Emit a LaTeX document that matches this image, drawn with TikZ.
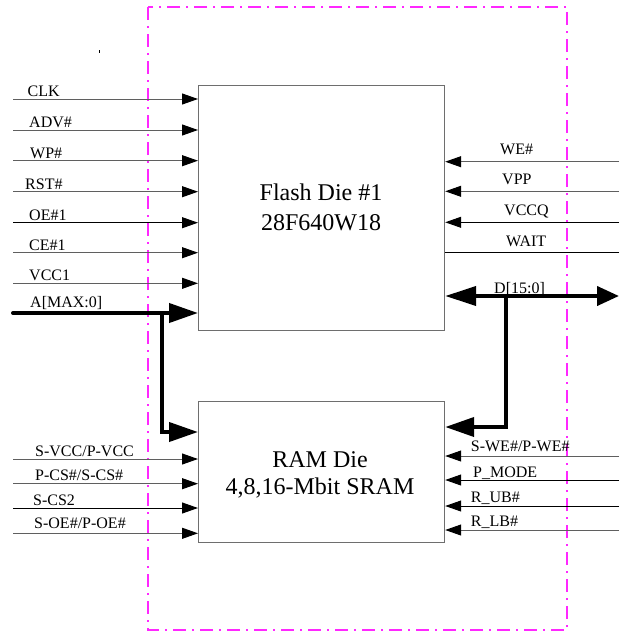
\documentclass[tikz,border=0pt]{standalone}
\usepackage{fontspec}
\setmainfont{Liberation Serif}
\usetikzlibrary{arrows.meta,calc}
\definecolor{sigc}{RGB}{95,95,95}
\definecolor{boxc}{RGB}{110,110,110}
\definecolor{pinkc}{RGB}{255,40,255}
\begin{document}
\begin{tikzpicture}[x=1pt,y=-1pt,
  diebox/.style={draw=boxc, line width=1.2pt, minimum width=246pt, inner sep=0pt, anchor=north west},
  sig/.style={draw=sigc, line width=1pt, -{Triangle[length=16pt,width=11pt,color=black]}},
  sigdark/.style={sig, draw=black},
  plain/.style={draw=black, line width=1pt},
  bus/.style={draw=black, line width=4pt, line join=miter, -{Triangle[length=29pt,width=19pt]}},
  lab/.style={font=\fontsize{16}{17}\selectfont, inner sep=0pt, anchor=base west},
  dietext/.style={font=\fontsize{24}{26}\selectfont, inner sep=0pt, anchor=base},
  frame/.style={draw=pinkc, line width=1.5pt, dash pattern=on 13pt off 6pt on 2pt off 6pt}
]
\useasboundingbox (0,0) rectangle (619,632);
\fill[white] (0,0) rectangle (619,632);

% dash-dot frame
\draw[frame] (148,7) rectangle (567,630);

% tiny mark
\draw[black, line width=0.8pt] (99.5,50) -- (99.5,53);

% die boxes
\node[diebox, minimum height=245pt] (flash) at (198,85) {};
\node[diebox, minimum height=141pt] (ram) at (198,401) {};

\node[dietext] (ft1) at (321,200.5) {Flash Die \#1};
\node[dietext] (ft2) at (321,230) {28F640W18};
\node[dietext] (rt1) at (320,467) {RAM Die};
\node[dietext] (rt2) at (320,494) {4,8,16-Mbit SRAM};

% flash left inputs
\foreach \y/\lx/\t/\s [count=\i] in {
  99/27.5/CLK/sig, 130/29/ADV\#/sig, 160.7/30/WP\#/sig, 191.7/25/RST\#/sig,
  222.7/29/OE\#1/sigdark, 252.7/29/CE\#1/sig, 283.3/29/VCC1/sig}{
  \coordinate (fl\i) at (13,\y);
  \draw[\s] (fl\i) -- (fl\i -| flash.west);
  \node[lab] (fll\i) at (\lx,\y-2.5) {\t};
}

% address bus
\coordinate (a0) at (13,313);
\coordinate (aj) at (162,313);
\draw[bus, line cap=round] (a0) -- (a0 -| flash.west);
\draw[bus] (aj) |- ($(ram.north west)+(0,31)$);
\node[lab] (alab) at (30,307) {A[MAX:0]};

% flash right inputs
\foreach \y/\lx/\t/\s [count=\i] in {
  161.7/500/WE\#/sig, 191.3/502/VPP/sig, 222.3/504/VCCQ/sigdark}{
  \coordinate (fr\i) at (619,\y);
  \draw[\s] (fr\i) -- (fr\i -| flash.east);
  \node[lab] (frl\i) at (\lx,\y-7) {\t};
}
\coordinate (wt) at (619,252.7);
\draw[plain] (wt) -- (wt -| flash.east);
\node[lab] (wtl) at (506,246.5) {WAIT};

% data bus
\coordinate (dR) at (619,296);
\coordinate (dj) at (505.5,296);
\draw[draw=black, line width=4pt, {Triangle[length=31pt,width=19pt]}-{Triangle[length=22pt,width=19pt]}] (dR -| flash.east) -- (dR);
\draw[bus] (dj) |- ($(ram.north east)+(0,26)$);
\node[lab] (dlab) at (494,293) {D[15:0]};

% RAM left inputs
\foreach \y/\lx/\t/\s/\o [count=\i] in {
  459/35/S-VCC\slash P-VCC/sig/3, 483.7/35/P-CS\#\slash S-CS\#/sig/3,
  508/33/S-CS2/sigdark/3, 533.3/34/S-OE\#\slash P-OE\#/sig/5}{
  \coordinate (rl\i) at (13,\y);
  \draw[\s] (rl\i) -- (rl\i -| ram.west);
  \node[lab] (rll\i) at (\lx,\y-\o) {\t};
}

% RAM right inputs
\foreach \y/\lx/\t/\s/\o [count=\i] in {
  456/470.7/S-WE\#\slash P-WE\#/sig/5, 480/473/P\_MODE/sigdark/3,
  506/470.7/R\_UB\#/sigdark/4, 530/470.7/R\_LB\#/sig/3.5}{
  \coordinate (rr\i) at (619,\y);
  \draw[\s] (rr\i) -- (rr\i -| ram.east);
  \node[lab] (rrl\i) at (\lx,\y-\o) {\t};
}
\end{tikzpicture}
\end{document}
